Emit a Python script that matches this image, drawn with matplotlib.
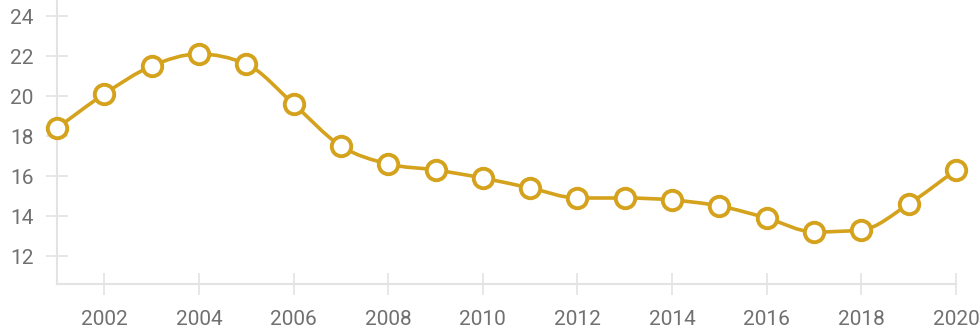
import matplotlib.pyplot as plt
from matplotlib.path import Path
from matplotlib.patches import PathPatch
import numpy as np

plt.rcParams['font.family'] = ['Roboto', 'DejaVu Sans']

years = [2001, 2002, 2003, 2004, 2005, 2006, 2007, 2008, 2009, 2010,
         2011, 2012, 2013, 2014, 2015, 2016, 2017, 2018, 2019, 2020]
values = [18.4, 20.1, 21.5, 22.1, 21.6, 19.6, 17.5, 16.6, 16.3, 15.9,
          15.4, 14.9, 14.9, 14.8, 14.5, 13.9, 13.2, 13.3, 14.6, 16.3]
xticks = list(range(2002, 2021, 2))
yticks = [12, 14, 16, 18, 20, 22, 24]

gold = "#d4a21c"
grid_grey = "#e3e3e3"


def monotone_path(x, y):
    # monotone cubic curve through the points (like d3 curveMonotoneX)
    x = np.asarray(x, float)
    y = np.asarray(y, float)
    h = np.diff(x)
    s = np.diff(y) / h
    m = np.zeros_like(y)
    m[0], m[-1] = s[0], s[-1]
    for i in range(1, len(y) - 1):
        if s[i - 1] * s[i] <= 0:
            m[i] = 0
        else:
            p = (s[i - 1] * h[i] + s[i] * h[i - 1]) / (h[i - 1] + h[i])
            m[i] = np.sign(s[i]) * min(2 * abs(s[i - 1]), 2 * abs(s[i]), abs(p))
    verts = [(x[0], y[0])]
    codes = [Path.MOVETO]
    for i in range(len(x) - 1):
        d = h[i] / 3
        verts += [(x[i] + d, y[i] + m[i] * d),
                  (x[i + 1] - d, y[i + 1] - m[i + 1] * d),
                  (x[i + 1], y[i + 1])]
        codes += [Path.CURVE4] * 3
    return Path(verts, codes)


fig = plt.figure(figsize=(9.8, 3.33), dpi=100)
ax = fig.add_axes([57 / 980, 49 / 333, (956 - 57) / 980, 284 / 333])

ax.add_patch(PathPatch(monotone_path(years, values), facecolor="none",
                       edgecolor=gold, linewidth=2.6, clip_on=False, zorder=3))
ax.plot(years, values, linestyle="none", marker="o", markersize=14,
        markerfacecolor="white", markeredgecolor=gold, markeredgewidth=2.8,
        clip_on=False, zorder=4)

ax.set_xlim(2001, 2020)
ax.set_ylim(10.6, 24.8)
ax.set_xticks(xticks)
ax.set_yticks(yticks)

for side in ("top", "right"):
    ax.spines[side].set_visible(False)
for side in ("left", "bottom"):
    ax.spines[side].set_color(grid_grey)
    ax.spines[side].set_linewidth(1.5)

ax.tick_params(axis="both", direction="inout", length=16, width=1.2,
               color=grid_grey, labelcolor="#707070", labelsize=15)
ax.tick_params(axis="y", pad=9)
ax.tick_params(axis="x", pad=11)

fig.savefig("out.png", dpi=100)
